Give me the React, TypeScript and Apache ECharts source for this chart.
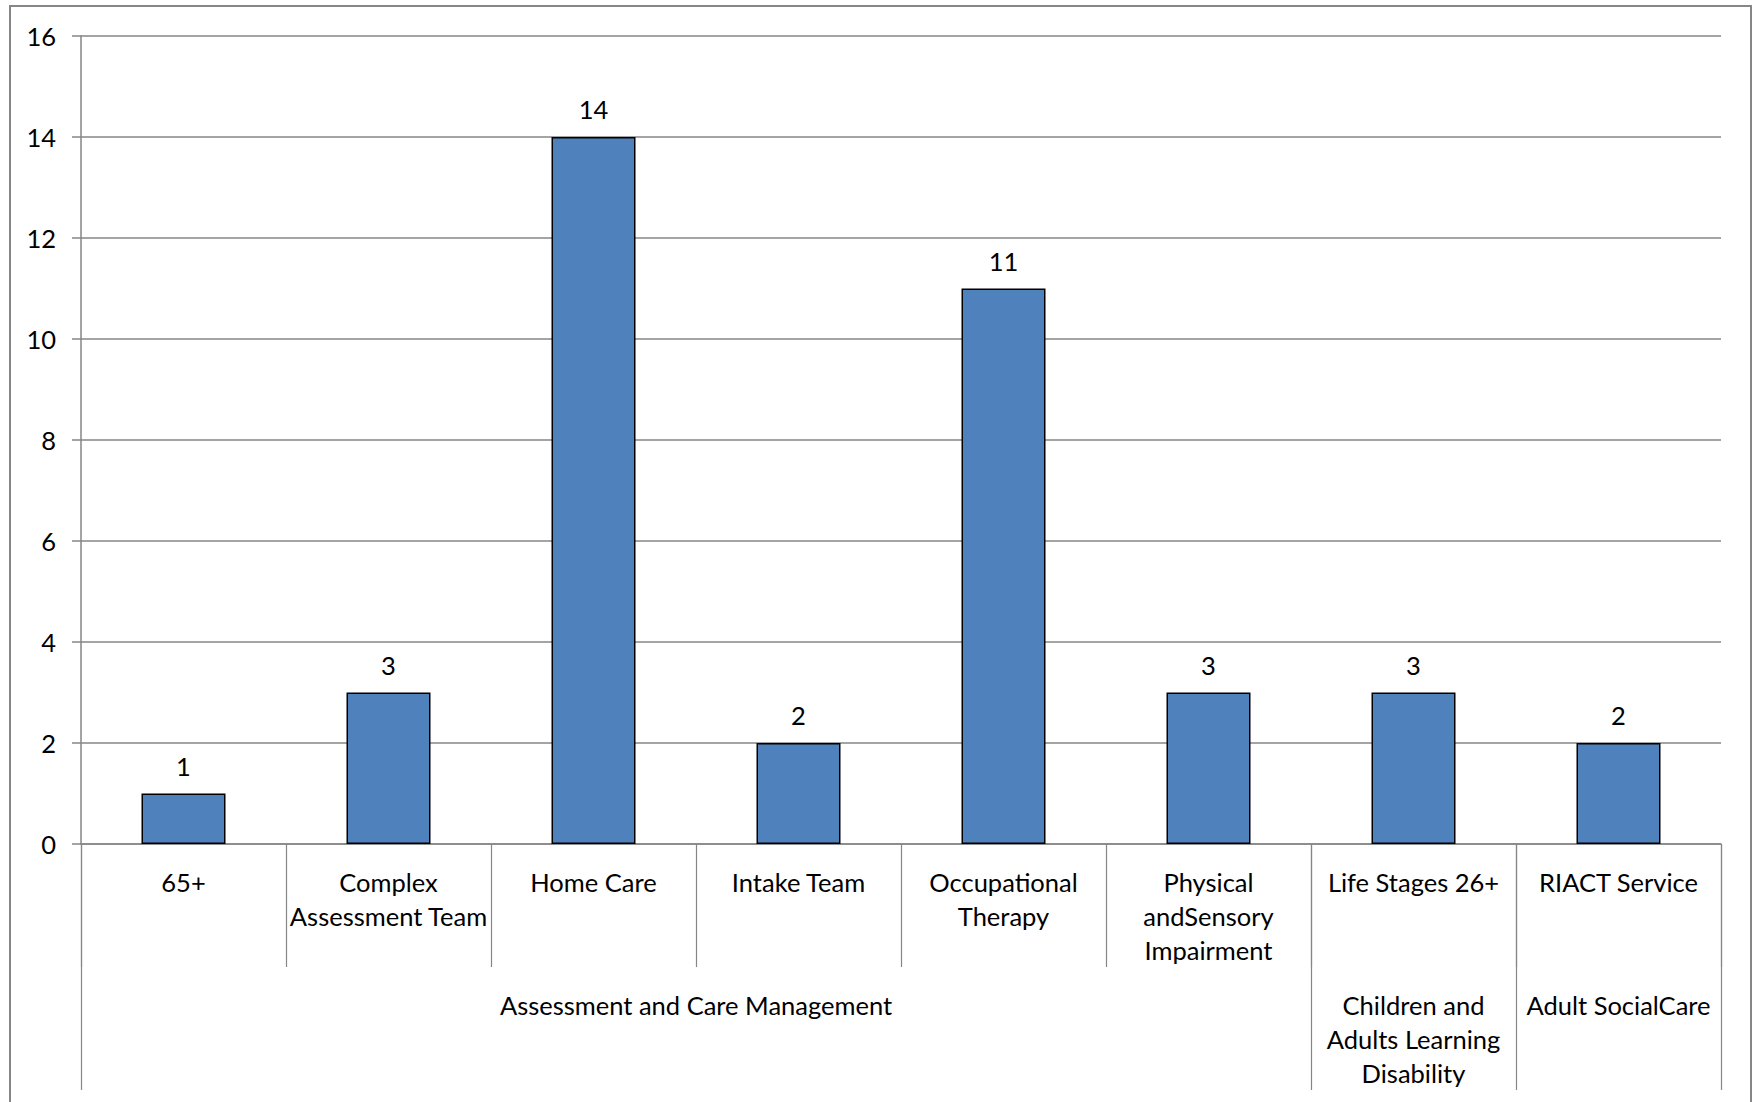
import React, { useEffect, useRef } from "react";
import * as echarts from "echarts";

const categories = [
  "65+",
  "Complex\nAssessment Team",
  "Home Care",
  "Intake Team",
  "Occupational\nTherapy",
  "Physical\nandSensory\nImpairment",
  "Life Stages 26+",
  "RIACT Service",
];
const values = [1, 3, 14, 2, 11, 3, 3, 2];
const groupNames = [
  "Assessment and Care Management",
  "Children and\nAdults Learning\nDisability",
  "Adult SocialCare",
];
const groupSizes = [6, 1, 1];
const yTicks = { min: 0, max: 16, interval: 2 };

const FONT = "Lato";
const GRAY = "#868686";
const FS = 25.5;

export default function App() {
  const ref = useRef<HTMLDivElement>(null);
  useEffect(() => {
    if (!ref.current) return;
    const chart = echarts.init(ref.current, undefined, { renderer: "svg" });
    const boundaries: number[] = [0];
    const centers: number[] = [];
    groupSizes.forEach((s) => {
      const start = boundaries[boundaries.length - 1];
      centers.push(start + s / 2);
      boundaries.push(start + s);
    });
    chart.setOption({
      animation: false,
      textStyle: { fontFamily: FONT },
      graphic: [
        {
          type: "rect",
          shape: { x: 10, y: 6, width: 1741, height: 1120 },
          style: { fill: "none", stroke: GRAY, lineWidth: 2 },
          silent: true,
        },
      ],
      grid: { left: 81, right: 38, top: 36, bottom: 258, containLabel: false },
      xAxis: [
        {
          type: "category",
          data: categories,
          position: "bottom",
          axisLine: { show: true, lineStyle: { color: GRAY, width: 1.5 } },
          axisTick: {
            show: true,
            interval: 0,
            length: 123,
            lineStyle: { color: GRAY, width: 1.2 },
          },
          axisLabel: {
            interval: 0,
            margin: 21,
            fontSize: FS,
            lineHeight: 34,
            color: "#000",
            fontFamily: FONT,
            verticalAlign: "top",
          },
        },
        {
          type: "value",
          min: 0,
          max: boundaries[boundaries.length - 1],
          position: "bottom",
          axisLine: { show: false },
          splitLine: { show: false },
          axisTick: {
            show: true,
            customValues: boundaries,
            length: 246,
            lineStyle: { color: GRAY, width: 1.2 },
          },
          axisLabel: {
            customValues: centers,
            margin: 144,
            fontSize: FS,
            lineHeight: 34,
            color: "#000",
            fontFamily: FONT,
            verticalAlign: "top",
            formatter: (v: number) => {
              const i = centers.findIndex((c) => Math.abs(c - v) < 1e-6);
              return i >= 0 ? groupNames[i] : "";
            },
          },
        },
      ],
      yAxis: {
        type: "value",
        min: yTicks.min,
        max: yTicks.max,
        interval: yTicks.interval,
        axisLine: { show: true, lineStyle: { color: GRAY, width: 1.5 } },
        axisTick: { show: true, length: 9, lineStyle: { color: GRAY, width: 1.5 } },
        splitLine: { show: true, lineStyle: { color: GRAY, width: 1.5 } },
        axisLabel: { margin: 25, fontSize: FS, color: "#000", fontFamily: FONT },
      },
      series: [
        {
          type: "bar",
          xAxisIndex: 0,
          data: values,
          barWidth: 84,
          itemStyle: { color: "#4F81BD", borderColor: "#000", borderWidth: 1.5 },
          label: {
            show: true,
            position: "top",
            distance: 15,
            fontSize: FS,
            color: "#000",
            fontFamily: FONT,
          },
        },
      ],
    });
    return () => chart.dispose();
  }, []);
  return (
    <div
      ref={ref}
      style={{ position: "fixed", left: 0, top: 0, width: 1759, height: 1102, background: "#fff" }}
    />
  );
}
